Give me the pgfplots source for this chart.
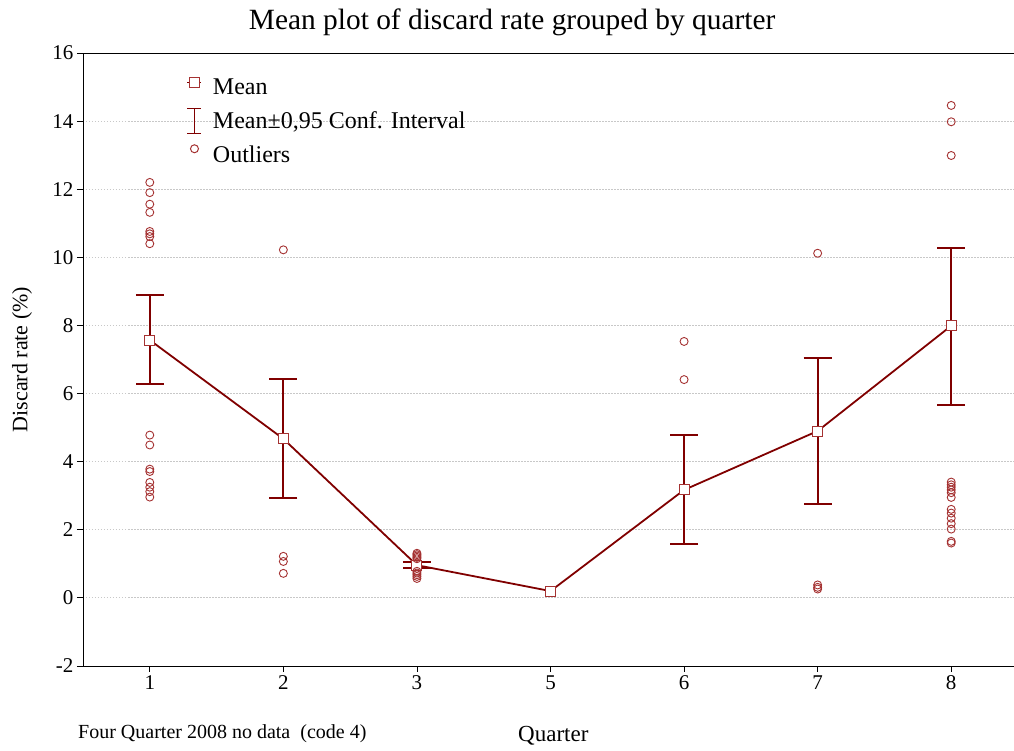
\documentclass[border=0pt]{standalone}
\usepackage{fontspec}
\setmainfont{Liberation Serif}
\usepackage{pgfplots}
\pgfplotsset{compat=1.18}
\definecolor{dred}{RGB}{128,0,0}
\definecolor{mred}{RGB}{165,50,50}
\definecolor{gridg}{RGB}{200,200,200}
\begin{document}
\begin{tikzpicture}
\path[use as bounding box] (-83pt,-85pt) rectangle (931pt,666pt);
\begin{axis}[
  at={(0pt,0pt)}, anchor=south west,
  scale only axis, width=935pt, height=613pt,
  xmin=-0.5, xmax=6.5, ymin=-2, ymax=16,
  xtick={0,...,6}, xticklabels={1,2,3,5,6,7,8},
  ytick={-2,0,...,16},
  tick pos=left, tick align=outside, major tick length=6pt,
  axis line style={black, line width=0.8pt},
  tick style={black, line width=0.8pt},
  ymajorgrids, grid style={gridg, line width=0.8pt, dash pattern=on 1.5pt off 1.5pt},
  ticklabel style={font=\fontsize{21}{25}\selectfont},
  /pgf/number format/assume math mode=true,
  clip=false,
  legend style={draw=none, fill=none, at={(axis description cs:0.111,0.962)}, anchor=north west,
    font=\fontsize{24}{28}\selectfont, row sep=10pt, inner sep=0pt,
    /tikz/every odd column/.append style={column sep=9pt}},
  legend cell align=left,
]
% confidence intervals
\addplot[dred, only marks, mark=none, forget plot,
  error bars/.cd, y dir=both, y explicit,
  error bar style={draw=dred, line width=2pt},
  error mark options={draw=dred, line width=2pt, mark size=14pt, rotate=90}]
coordinates {
 (0,7.57) += (0,1.33) -= (0,1.29)
 (1,4.67) += (0,1.76) -= (0,1.73)
 (2,0.96) += (0,0.09) -= (0,0.09)
 (4,3.17) += (0,1.61) -= (0,1.58)
 (5,4.90) += (0,2.15) -= (0,2.14)
 (6,7.99) += (0,2.29) -= (0,2.32)
};
% means
\addplot[dred, line width=1.8pt, mark=square*, mark size=5pt,
  mark options={fill=white, draw=mred, line width=0.9pt}, forget plot]
coordinates {(0,7.57) (1,4.67) (2,0.96) (3,0.20) (4,3.17) (5,4.90) (6,7.99)};
% outliers
\addplot[only marks, mark=o, mark size=4pt, mark options={draw=mred, line width=0.9pt}, forget plot]
coordinates {
 (0,12.2) (0,11.9) (0,11.56) (0,11.32) (0,10.76) (0,10.69) (0,10.61) (0,10.40)
 (0,4.78) (0,4.49) (0,3.78) (0,3.71) (0,3.39) (0,3.25) (0,3.12) (0,2.96)
 (1,10.22) (1,1.22) (1,1.07) (1,0.72)
 (2,1.31) (2,1.27) (2,1.23) (2,1.19) (2,1.15) (2,0.78) (2,0.73) (2,0.68) (2,0.63) (2,0.57)
 (4,7.53) (4,6.41)
 (5,10.12) (5,0.38) (5,0.31) (5,0.26)
 (6,14.46) (6,13.98) (6,12.99)
 (6,3.40) (6,3.32) (6,3.25) (6,3.17) (6,3.09) (6,2.95)
 (6,2.60) (6,2.49) (6,2.34) (6,2.18) (6,2.02) (6,1.66) (6,1.61)
};
% legend entries
\addlegendimage{legend image code/.code={
  \draw[dred, line width=1pt] (0pt,5pt) -- (14pt,5pt);
  \draw[mred, fill=white, line width=1pt] (2pt,0pt) rectangle (12pt,10pt);}}
\addlegendentry{Mean}
\addlegendimage{legend image code/.code={
  \draw[dred, line width=1pt] (7pt,-12pt) -- (7pt,13pt);
  \draw[dred, line width=1pt] (0pt,13pt) -- (14pt,13pt);
  \draw[dred, line width=1pt] (0pt,-12pt) -- (14pt,-12pt);}}
\addlegendentry{Mean±0,95 Conf. Interval}
\addlegendimage{legend image code/.code={
  \draw[mred, line width=1pt] (7pt,6pt) circle (4pt);}}
\addlegendentry{Outliers}
% texts
\node[font=\fontsize{29.4}{34}\selectfont, anchor=base] at ([yshift=23pt]axis description cs:0.459,1) {Mean plot of discard rate grouped by quarter};
\node[font=\fontsize{22}{26}\selectfont, rotate=90, anchor=center] at ([xshift=-61pt]axis description cs:0,0.5) {Discard rate (\%)};
\node[font=\fontsize{23}{27}\selectfont, anchor=base] at ([yshift=-76pt]axis description cs:0.503,0) {Quarter};
\node[font=\fontsize{20}{24}\selectfont, anchor=base west, inner sep=0pt] at ([xshift=-5pt, yshift=-73pt]axis description cs:0,0) {Four Quarter 2008 no data\ \ (code 4)};
\end{axis}
\end{tikzpicture}
\end{document}
